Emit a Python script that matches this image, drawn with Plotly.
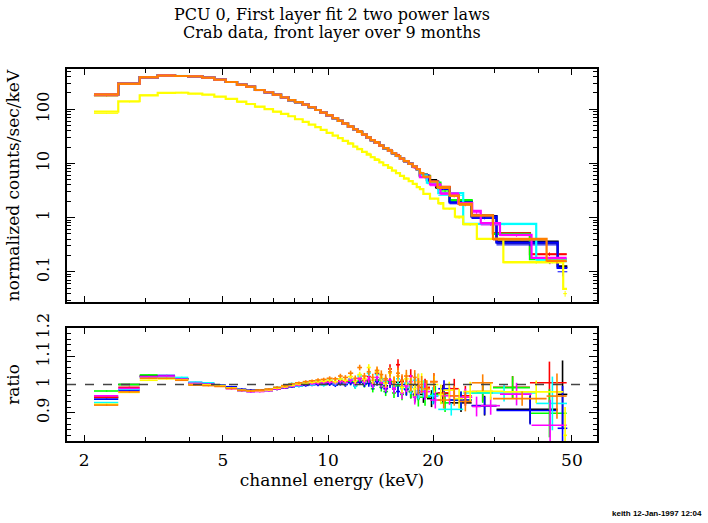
import plotly.graph_objects as go

# ---------------- data ----------------
# common channel-energy bin edges (keV)
edges_common = [2.135, 2.506, 2.887, 3.251, 3.645, 3.978, 4.363, 4.723, 5.092, 5.487,
                5.833, 6.177, 6.578, 6.957, 7.334, 7.695, 8.043, 8.463, 8.805, 9.195,
                9.530, 9.910, 10.31, 10.68, 11.02, 11.41, 11.81, 12.13, 12.52, 12.91,
                13.26, 13.61, 14.03, 14.40, 14.86, 15.25, 15.66, 16.08, 16.51, 17.03,
                17.49, 17.96, 18.34]

# folded model (counts/sec/keV) in the common bins
model_bright = [189, 297, 389, 417, 411, 406, 383, 352, 319, 284, 261, 227, 206, 186, 166,
                147, 136, 122, 109, 97, 86.5, 77.4, 68.2, 60.8, 54.2, 47.7, 42.7, 38.1,
                34.0, 29.9, 26.8, 24.2, 21.3, 19.1, 17.2, 15.4, 13.7, 12.3, 11.0, 9.8,
                8.7, 7.8]
model_yellow = [90.3, 140.5, 181, 200, 202, 194, 186, 171, 155, 138, 125, 112, 101, 90.4,
                81.9, 74.3, 65.4, 58.3, 52.0, 46.6, 41.5, 36.5, 32.6, 29.2, 26.0, 23.2,
                20.4, 18.3, 16.3, 14.5, 13.0, 11.6, 10.4, 9.27, 8.26, 7.37, 6.59, 5.88,
                5.24, 4.70, 4.19, 3.64]

ratio_err_common = [0.002, 0.002, 0.002, 0.002, 0.002, 0.002, 0.002, 0.002, 0.003, 0.003,
                    0.003, 0.003, 0.003, 0.004, 0.004, 0.004, 0.005, 0.005, 0.005, 0.006,
                    0.006, 0.007, 0.007, 0.008, 0.008, 0.009, 0.010, 0.010, 0.011, 0.012,
                    0.013, 0.014, 0.015, 0.016, 0.017, 0.018, 0.019, 0.021, 0.022, 0.024,
                    0.026, 0.028]

# data/model ratio in the common bins
ratio_black = [0.954, 1.000, 1.030, 1.030, 1.020, 1.000, 0.999, 0.997, 0.990, 0.982, 0.979,
               0.980, 0.982, 0.986, 0.990, 0.994, 0.998, 1.000, 1.001, 1.003, 1.002, 1.004,
               1.003, 1.006, 1.002, 1.008, 1.005, 1.010, 1.003, 1.012, 1.000, 1.015, 1.005,
               0.995, 1.012, 0.985, 1.008, 0.990, 1.002, 0.975, 0.998, 0.972]
ratio_red = [0.955, 0.990, 1.030, 1.028, 1.021, 1.005, 1.002, 0.996, 0.989, 0.981, 0.978,
             0.979, 0.981, 0.987, 0.991, 0.996, 0.999, 1.002, 1.004, 1.006, 1.008, 1.010,
             1.009, 1.014, 1.012, 1.018, 1.010, 1.022, 1.015, 1.028, 1.005, 1.040, 1.020,
             1.012, 1.055, 1.000, 1.070, 1.010, 0.985, 1.030, 0.965, 1.010]
ratio_green = [0.977, 1.000, 1.034, 1.031, 1.020, 1.003, 1.000, 0.995, 0.988, 0.980, 0.976,
               0.977, 0.979, 0.984, 0.989, 0.993, 0.997, 1.000, 1.001, 1.003, 1.004, 1.006,
               1.005, 1.008, 1.003, 1.010, 0.995, 1.012, 1.000, 1.008, 0.985, 1.015, 0.990,
               0.975, 1.010, 0.970, 0.995, 0.965, 0.985, 0.975, 0.960, 0.950]
ratio_blue = [0.948, 0.980, 1.028, 1.032, 1.020, 1.007, 1.004, 0.997, 0.992, 0.983, 0.979,
              0.978, 0.979, 0.984, 0.988, 0.992, 0.995, 0.997, 0.999, 1.000, 1.001, 1.002,
              0.998, 1.004, 1.000, 1.006, 0.998, 1.008, 1.002, 1.004, 0.995, 1.010, 1.000,
              0.985, 1.005, 0.992, 0.975, 1.000, 0.982, 0.990, 0.965, 0.978]
ratio_cyan = [0.936, 0.983, 1.025, 1.027, 1.025, 1.008, 1.006, 0.996, 0.988, 0.978, 0.975,
              0.978, 0.982, 0.990, 0.996, 1.003, 0.995, 1.008, 1.000, 1.012, 0.998, 1.015,
              1.003, 1.020, 1.005, 1.018, 0.995, 1.030, 1.010, 1.040, 1.000, 1.035, 1.020,
              1.010, 1.045, 0.995, 1.020, 0.985, 1.005, 0.990, 1.015, 0.975]
ratio_magenta = [0.960, 0.986, 1.027, 1.030, 1.019, 1.004, 1.001, 0.994, 0.985, 0.978, 0.974,
                 0.975, 0.978, 0.984, 0.989, 0.994, 0.998, 1.001, 1.003, 1.005, 1.006, 1.008,
                 1.006, 1.011, 1.007, 1.015, 1.004, 1.020, 1.010, 1.018, 1.000, 1.025, 1.005,
                 0.990, 1.015, 0.985, 1.030, 0.970, 0.995, 1.010, 0.955, 0.990]
ratio_yellow = [0.930, 0.972, 1.015, 1.020, 1.017, 1.000, 0.999, 0.995, 0.988, 0.980, 0.977,
                0.978, 0.981, 0.987, 0.992, 0.997, 1.002, 1.005, 1.008, 1.010, 1.012, 1.015,
                1.010, 1.020, 1.015, 1.028, 1.012, 1.035, 1.020, 1.060, 1.015, 1.045, 1.025,
                1.005, 1.040, 1.010, 1.030, 0.990, 1.020, 1.000, 0.985, 1.010]
ratio_orange = [0.927, 0.974, 1.022, 1.022, 1.015, 0.998, 0.996, 0.993, 0.986, 0.979, 0.977,
                0.980, 0.984, 0.990, 0.996, 1.002, 1.006, 1.010, 1.013, 1.016, 1.018, 1.022,
                1.020, 1.030, 1.025, 1.040, 1.022, 1.060, 1.030, 1.045, 1.025, 1.050, 1.035,
                1.020, 1.045, 1.010, 1.040, 1.015, 1.030, 1.000, 1.025, 0.995]

# grouped high-energy bins of each data set
hi_edges_black = [18.34, 19.2, 20.4, 22.3, 25.8, 30.4, 45.5, 48.5]
hi_model_black = [6.2, 4.9, 3.6, 2.0, 1.06, 0.36, 0.125]
hi_ratio_black = [0.965, 0.950, 0.968, 0.935, 0.925, 0.912, 0.965]
hi_err_black = [0.030, 0.030, 0.030, 0.032, 0.035, 0.050, 0.120]

hi_edges_red = [18.34, 19.6, 20.6, 22.3, 23.7, 25.8, 29.7, 37.9, 48.3]
hi_model_red = [5.9, 4.7, 3.7, 2.6, 1.8, 1.1, 0.515, 0.21]
hi_ratio_red = [0.990, 1.010, 0.970, 0.985, 0.960, 0.975, 0.990, 1.006]
hi_err_red = [0.030, 0.030, 0.032, 0.035, 0.035, 0.035, 0.040, 0.075]

hi_edges_green = [18.34, 19.6, 21.0, 22.3, 25.8, 29.7, 37.9, 48.3]
hi_model_green = [5.8, 4.4, 3.3, 2.1, 1.08, 0.50, 0.17]
hi_ratio_green = [0.955, 0.965, 0.935, 0.945, 0.970, 0.989, 0.898]
hi_err_green = [0.030, 0.030, 0.032, 0.030, 0.035, 0.040, 0.085]

hi_edges_blue = [18.34, 19.4, 20.7, 22.3, 25.8, 30.4, 45.5, 48.5]
hi_model_blue = [6.0, 4.6, 3.4, 1.9, 1.04, 0.344, 0.118]
hi_ratio_blue = [0.975, 0.960, 0.985, 0.945, 0.925, 0.908, 0.845]
hi_err_blue = [0.028, 0.030, 0.030, 0.030, 0.032, 0.050, 0.150]

hi_edges_cyan = [18.34, 19.2, 20.7, 24.4, 39.5, 48.4]
hi_model_cyan = [6.0, 4.4, 2.82, 0.765, 0.17]
hi_ratio_cyan = [0.985, 0.960, 0.912, 0.970, 0.933]
hi_err_cyan = [0.030, 0.030, 0.022, 0.030, 0.095]

hi_edges_magenta = [18.34, 19.6, 21.0, 23.6, 25.9, 27.4, 31.1, 38.3, 48.3]
hi_model_magenta = [5.6, 4.1, 2.8, 1.84, 1.33, 0.79, 0.48, 0.18]
hi_ratio_magenta = [0.975, 0.945, 0.960, 0.955, 0.922, 0.925, 0.966, 0.856]
hi_err_magenta = [0.030, 0.030, 0.032, 0.030, 0.035, 0.032, 0.040, 0.090]

hi_edges_yellow = [18.34, 18.76, 19.6, 20.7, 21.4, 23.1, 24.4, 26.7, 31.8, 47.2, 48.4]
hi_model_yellow = [3.34, 2.73, 2.24, 1.84, 1.47, 1.04, 0.755, 0.405, 0.150, 0.048]
hi_ratio_yellow = [1.010, 0.985, 1.000, 0.965, 0.980, 0.950, 0.975, 0.976, 0.974, 0.820]
hi_err_yellow = [0.030, 0.030, 0.030, 0.035, 0.030, 0.035, 0.035, 0.030, 0.040, 0.100]

hi_edges_orange = [18.34, 18.76, 19.6, 20.6, 22.3, 23.7, 25.8, 29.7, 42.3, 48.3]
hi_model_orange = [6.6, 5.7, 4.6, 3.64, 2.55, 1.79, 1.09, 0.405, 0.161]
hi_ratio_orange = [1.000, 0.985, 1.010, 0.945, 0.960, 0.940, 1.006, 0.950, 0.959]
hi_err_orange = [0.030, 0.030, 0.030, 0.030, 0.035, 0.035, 0.030, 0.025, 0.080]

x_tick_vals = [2, 5, 10, 20, 50]
x_tick_text = ["2", "5", "10", "20", "50"]
x_minor_vals = [3, 4, 6, 7, 8, 9, 30, 40]
y_tick_vals = [0.1, 1, 10, 100]
y_tick_text = ["0.1", "1", "10", "100"]
y_minor_vals = [0.03, 0.04, 0.05, 0.06, 0.07, 0.08, 0.09,
                0.2, 0.3, 0.4, 0.5, 0.6, 0.7, 0.8, 0.9,
                2, 3, 4, 5, 6, 7, 8, 9, 20, 30, 40, 50, 60, 70, 80, 90,
                200, 300, 400, 500]
r_tick_vals = [0.9, 1.0, 1.1, 1.2]
r_tick_text = ["0.9", "1", "1.1", "1.2"]

# ---------------- figure ----------------
series = [
    ("#000000", model_bright, ratio_black, hi_edges_black, hi_model_black, hi_ratio_black, hi_err_black),
    ("#ff0000", model_bright, ratio_red, hi_edges_red, hi_model_red, hi_ratio_red, hi_err_red),
    ("#00ff00", model_bright, ratio_green, hi_edges_green, hi_model_green, hi_ratio_green, hi_err_green),
    ("#0000ff", model_bright, ratio_blue, hi_edges_blue, hi_model_blue, hi_ratio_blue, hi_err_blue),
    ("#00ffff", model_bright, ratio_cyan, hi_edges_cyan, hi_model_cyan, hi_ratio_cyan, hi_err_cyan),
    ("#ff00ff", model_bright, ratio_magenta, hi_edges_magenta, hi_model_magenta, hi_ratio_magenta, hi_err_magenta),
    ("#ffff00", model_yellow, ratio_yellow, hi_edges_yellow, hi_model_yellow, hi_ratio_yellow, hi_err_yellow),
    ("#ff8000", model_bright, ratio_orange, hi_edges_orange, hi_model_orange, hi_ratio_orange, hi_err_orange),
]

fig = go.Figure()
for color, mlo, rlo, he, hm, hr, herr in series:
    edges = edges_common + he[1:]
    model = list(mlo) + hm
    ratio = rlo + hr
    err = ratio_err_common + herr
    lo = edges[:-1]
    hi = edges[1:]
    xc = [(a + b) / 2 for a, b in zip(lo, hi)]
    xp = [b - c for b, c in zip(hi, xc)]
    xm = [c - a for a, c in zip(lo, xc)]
    data = [m * r for m, r in zip(model, ratio)]
    derr = [m * e for m, e in zip(model, err)]
    # data crosses (top)
    fig.add_trace(go.Scatter(
        x=xc, y=data, mode="markers", marker=dict(size=1, color=color),
        error_x=dict(type="data", symmetric=False, array=xp, arrayminus=xm,
                     color=color, thickness=1, width=0),
        error_y=dict(type="data", array=derr, color=color, thickness=1, width=0),
        xaxis="x", yaxis="y", showlegend=False, hoverinfo="skip"))
    # model histogram (top)
    fig.add_trace(go.Scatter(
        x=edges, y=model + [model[-1]], mode="lines",
        line=dict(shape="hv", color=color, width=2.2),
        xaxis="x", yaxis="y", showlegend=False, hoverinfo="skip"))
    # ratio crosses (bottom)
    fig.add_trace(go.Scatter(
        x=xc, y=ratio, mode="markers", marker=dict(size=1, color=color),
        error_x=dict(type="data", symmetric=False, array=xp, arrayminus=xm,
                     color=color, thickness=1.6, width=0),
        error_y=dict(type="data", array=err, color=color, thickness=1.6, width=0),
        xaxis="x2", yaxis="y2", showlegend=False, hoverinfo="skip"))

fig.add_shape(type="line", xref="x2 domain", x0=0, x1=1, yref="y2", y0=1, y1=1,
              line=dict(color="#444444", width=1.5, dash="dash"))

font_family = "DejaVu Serif"
axis_common = dict(showline=True, linecolor="black", linewidth=1.5, mirror="allticks",
                   ticks="inside", tickcolor="black", showgrid=False, zeroline=False)

x_range = [0.2521, 1.7708]
fig.update_layout(
    width=708, height=523,
    margin=dict(l=67, r=111, t=69, b=82),
    paper_bgcolor="white", plot_bgcolor="white",
    font=dict(family=font_family, size=15, color="black"),
    xaxis=dict(type="log", range=x_range, domain=[0, 1], anchor="y",
               tickmode="array", tickvals=x_tick_vals, ticktext=x_tick_text,
               showticklabels=False, ticklen=6, tickwidth=1.2,
               minor=dict(tickmode="array", tickvals=x_minor_vals, ticks="inside",
                          ticklen=4, tickcolor="black", tickwidth=1),
               **axis_common),
    yaxis=dict(type="log", range=[-1.559, 2.7435], domain=[0.3737, 1], anchor="x",
               tickmode="array", tickvals=y_tick_vals, ticktext=y_tick_text,
               tickangle=-90, ticklen=8, tickwidth=1.2, ticklabelstandoff=10,
               tickfont=dict(size=16),
               minor=dict(tickmode="array", tickvals=y_minor_vals, ticks="inside",
                          ticklen=4, tickcolor="black", tickwidth=1),
               title=dict(text="normalized counts/sec/keV", font=dict(size=17), standoff=10),
               **axis_common),
    xaxis2=dict(type="log", range=x_range, domain=[0, 1], anchor="y2",
                tickmode="array", tickvals=x_tick_vals, ticktext=x_tick_text,
                ticklen=6, tickwidth=1.2, ticklabelstandoff=3,
                tickfont=dict(size=17),
                minor=dict(tickmode="array", tickvals=x_minor_vals, ticks="inside",
                           ticklen=4, tickcolor="black", tickwidth=1),
                title=dict(text="channel energy (keV)", font=dict(size=17), standoff=0),
                **axis_common),
    yaxis2=dict(range=[0.8, 1.2], domain=[0, 0.3038], anchor="x2",
                tickmode="array", tickvals=r_tick_vals, ticktext=r_tick_text,
                tickangle=-90, ticklen=8, tickwidth=1.2, ticklabelstandoff=10,
                tickfont=dict(size=16),
                minor=dict(tick0=0.8, dtick=0.02, ticks="inside", ticklen=4,
                           tickcolor="black", tickwidth=1),
                title=dict(text="ratio", font=dict(size=17), standoff=10),
                **axis_common),
    annotations=[
        dict(text="PCU 0, First layer fit 2 two power laws", xref="paper", yref="paper",
             x=0.5, y=1.1478, showarrow=False, font=dict(size=16, family=font_family),
             xanchor="center", yanchor="middle"),
        dict(text="Crab data, front layer over 9 months", xref="paper", yref="paper",
             x=0.5, y=1.0968, showarrow=False, font=dict(size=16, family=font_family),
             xanchor="center", yanchor="middle"),
        dict(text="<b>keith 12-Jan-1997 12:04</b>", xref="paper", yref="paper",
             x=1.2019, y=-0.196, showarrow=False,
             font=dict(size=8, family="Liberation Sans"),
             xanchor="right", yanchor="middle"),
    ],
)

fig.write_html("out.html")
